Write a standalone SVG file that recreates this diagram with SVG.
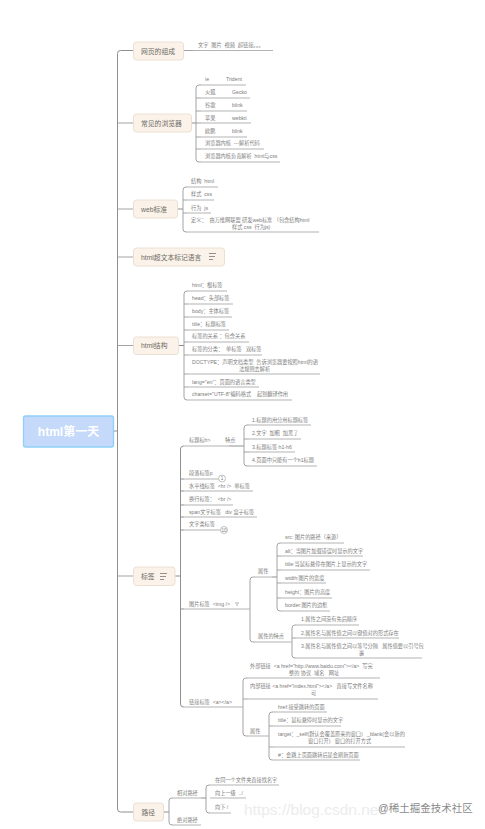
<svg xmlns="http://www.w3.org/2000/svg" width="485" height="829" viewBox="0 0 485 829">
<style>
text{font-family:"Liberation Sans","Noto Sans CJK SC",sans-serif;font-size:5.2px;fill:#7c7c7c;white-space:pre}
.m{font-size:6.8px;fill:#6e6a66}
.r{font-size:12px;font-weight:bold;fill:#fff}
.n{fill:#fbf3ea;stroke:#ebe0d2;stroke-width:1}
.u{stroke:#aaa;stroke-width:0.9;fill:none}
.c{stroke:#999;stroke-width:0.9;fill:none}
.t{stroke:#8f8f8f;stroke-width:1;fill:none}
.w{font-size:15.500px;fill:#ececec}
</style>
<rect width="485" height="829" fill="#fff"/>
<g id="watermark-url"><text class="w" x="244" y="815">https://blog.csdn.net/</text></g>
<g id="connectors">
<path class="t" d="M113 431H117.5"/>
<path class="t" d="M133 50.5H120.5Q117.5 50.5 117.5 53.500V809Q117.500 812 120.500 812H133"/>
<path class="c" d="M117.5 123H133M117.5 209H133M117.5 257H133M117.5 345.500H133M117.5 576H133"/>
<path class="c" d="M183 50.500H193"/>
<path class="t" d="M191 123H196"/>
<path class="c" d="M201 85H199Q196 85 196 88V159Q196 162 199 162H201M196 98H201M196 111H201M196 123H201M196 137H201M196 149H201"/>
<path class="t" d="M177 209H183"/>
<path class="c" d="M187 187H186Q183 187 183 190V229Q183 232 186 232H187M183 200H187M183 213H187"/>
<path class="t" d="M178 345.500H184"/>
<path class="c" d="M188 291H187Q184 291 184 294V397Q184 400 187 400H188M184 304H188M184 317H188M184 330H188M184 342H188M184 355H188M184 374H188M184 387H188"/>
<path class="t" d="M175 576H180.500"/>
<path class="t" d="M184 446H183.500Q180.500 446 180.500 449V704Q180.500 707 183.500 707H184M180.500 479H184M180.500 491H184M180.500 505H184M180.500 517H184M180.500 530H184M180.500 609H184"/>
<path class="t" d="M229 446H244"/>
<path class="c" d="M249 425H247Q244 425 244 428V463Q244 466 247 466H249M244 439H249M244 452H249"/>
<path class="c" d="M250 609V580Q250 577 253 577H255M250 609V639Q250 642 253 642H255"/>
<path class="t" d="M272 577H277"/>
<path class="c" d="M281 543H280Q277 543 277 546V608Q277 611 280 611H281M277 556H281M277 570H281M277 583H281M277 598H281"/>
<path class="c" d="M296 625H295Q292 625 292 628V655Q292 658 295 658H296M292 638H296"/>
<path class="c" d="M243 707V681Q243 678 246 678H248M243 707V733Q243 736 246 736H248M243 699H248"/>
<path class="c" d="M273 712H272Q269 712 269 715V757Q269 760 272 760H273M269 726H273M269 747H273"/>
<path class="t" d="M163 812H169"/>
<path class="c" d="M173 798H172Q169 798 169 801V822Q169 825 172 825H173"/>
<path class="t" d="M201 798H206"/>
<path class="c" d="M210 785H209Q206 785 206 788V810Q206 813 209 813H210"/>
</g>
<g id="root"><rect x="23.500" y="416" width="90" height="31" rx="2" fill="#c5d9fb" stroke="#8fd0f7" stroke-width="1.300"/><text class="r" x="68.500" y="436" text-anchor="middle">html第一天</text></g>
<g id="n-composition"><rect class="n" x="133.500" y="42" width="50" height="18" rx="3"/><text class="m" x="141" y="53.500">网页的组成</text></g>
<g id="n-browsers"><rect class="n" x="133.500" y="114" width="58" height="18" rx="3"/><text class="m" x="141" y="125.500">常见的浏览器</text></g>
<g id="n-web"><rect class="n" x="133.500" y="200" width="44" height="18" rx="3"/><text class="m" x="141" y="211.500">web标准</text></g>
<g id="n-hypertext"><rect class="n" x="133.500" y="248" width="91" height="18" rx="3"/><text class="m" x="141" y="259.500">html超文本标记语言</text><path d="M209 253.500H216M209 256.500H215M209 259.500H213" stroke="#777" stroke-width="0.800" fill="none"/></g>
<g id="n-structure"><rect class="n" x="133.500" y="337" width="45" height="17.500" rx="3"/><text class="m" x="141" y="348">html结构</text></g>
<g id="n-tags"><rect class="n" x="133.500" y="567" width="41.500" height="18.500" rx="3"/><text class="m" x="141" y="579">标签</text><path d="M160 573.500H167M160 576.500H166M160 579.500H164" stroke="#777" stroke-width="0.800" fill="none"/></g>
<g id="n-path"><rect class="n" x="133.500" y="803" width="30" height="18" rx="3"/><text class="m" x="141.500" y="814.500">路径</text></g>

<g id="l-composition"><text x="198" y="47">文字  图片  视频  超链接。。。</text><path class="u" d="M193 50.500H273"/></g>
<g id="l-ie"><text x="205" y="81">ie</text><text x="226" y="81">Trident</text><path class="u" d="M201 85H246"/></g>
<g id="l-firefox"><text x="205" y="94">火狐</text><text x="232" y="94">Gecko</text><path class="u" d="M201 98H250"/></g>
<g id="l-chrome"><text x="205" y="107">谷歌</text><text x="232" y="107">blink</text><path class="u" d="M201 111H247"/></g>
<g id="l-safari"><text x="205" y="120">苹果</text><text x="232" y="120">webkit</text><path class="u" d="M201 123H251"/></g>
<g id="l-opera"><text x="205" y="133">欧鹏</text><text x="232" y="133">blink</text><path class="u" d="M201 137H247"/></g>
<g id="l-kernel1"><text x="205" y="145">浏览器内核  ---解析代码</text><path class="u" d="M201 149H264"/></g>
<g id="l-kernel2"><text x="205" y="158">浏览器内核负责解析  html与css</text><path class="u" d="M201 162H280"/></g>

<g id="l-w1"><text x="191" y="183">结构  html</text><path class="u" d="M187 187H218"/></g>
<g id="l-w2"><text x="191" y="196">样式  css</text><path class="u" d="M187 200H214"/></g>
<g id="l-w3"><text x="191" y="209.500">行为  js</text><path class="u" d="M187 213H211"/></g>
<g id="l-w4"><text x="191" y="222">定义：  由万维网联盟 研发web标准 （包含结构html</text><text x="232" y="229">样式 css  行为js)</text><path class="u" d="M187 232H319"/></g>

<g id="l-s1"><text x="192" y="287">html：根标签</text><path class="u" d="M188 291H227"/></g>
<g id="l-s2"><text x="192" y="300">head：头部标签</text><path class="u" d="M188 304H233"/></g>
<g id="l-s3"><text x="192" y="313">body：主体标签</text><path class="u" d="M188 317H232"/></g>
<g id="l-s4"><text x="192" y="326">title：标题标签</text><path class="u" d="M188 330H229"/></g>
<g id="l-s5"><text x="192" y="338">标签的关系 ：包含关系</text><path class="u" d="M188 342H249"/></g>
<g id="l-s6"><text x="192" y="351">标签的分类：  单标签   双标签</text><path class="u" d="M188 355H262"/></g>
<g id="l-s7"><text x="192" y="364">DOCTYPE：声明文档类型  告诉浏览器要按照html的语</text><text x="239" y="371">法规则去解析</text><path class="u" d="M188 374H320"/></g>
<g id="l-s8"><text x="192" y="384">lang="en"：页面的语言类型</text><path class="u" d="M188 387H259"/></g>
<g id="l-s9"><text x="192" y="396">charset="UTF-8"编码格式    起到翻译作用</text><path class="u" d="M188 400H292"/></g>

<g id="t-h"><text x="189" y="442">标题标h&gt;</text><text x="225" y="442">特点</text><path class="u" d="M184 446H229"/></g>
<g id="t-h1"><text x="252" y="422">1.标题的用分用标题标签</text><path class="u" d="M249 425H311"/></g>
<g id="t-h2"><text x="252" y="435">2.文字  加粗  加黑了</text><path class="u" d="M249 439H301"/></g>
<g id="t-h3"><text x="252" y="449">3.标题标签 h1-h6</text><path class="u" d="M249 452H295"/></g>
<g id="t-h4"><text x="252" y="462">4.页面中只能有一个h1标题</text><path class="u" d="M249 466H317"/></g>
<g id="t-p"><text x="189" y="475">段落标签p</text><path class="u" d="M184 479H218.500"/><circle cx="222" cy="478.500" r="3.500" fill="#fff" stroke="#999" stroke-width="0.600"/><text x="222" y="480.300" text-anchor="middle" style="font-size:4.500px">1</text></g>
<g id="t-hr"><text x="189" y="488">水平线标签  &lt;hr /&gt;  单标签</text><path class="u" d="M184 491H253"/></g>
<g id="t-br"><text x="189" y="501">换行标签：  &lt;br /&gt;</text><path class="u" d="M184 505H233"/></g>
<g id="t-span"><text x="189" y="514">span文字标签   div 盒子标签</text><path class="u" d="M184 517H257"/></g>
<g id="t-text"><text x="189" y="526">文字类标签</text><path class="u" d="M184 530H220.500"/><circle cx="224" cy="530" r="3.500" fill="#fff" stroke="#999" stroke-width="0.600"/><text x="224" y="531.800" text-anchor="middle" style="font-size:4.500px">10</text></g>
<g id="t-img"><text x="189" y="606">图片标签  &lt;img /&gt;</text><path d="M235 603H239M236 605H238" stroke="#777" stroke-width="0.600"/><path class="u" d="M184 609H250"/></g>
<g id="t-attr"><text x="258" y="573">属性</text><path class="u" d="M255 577H272"/></g>
<g id="t-a1"><text x="285" y="539">src: 图片的路径（来源）</text><path class="u" d="M281 543H344"/></g>
<g id="t-a2"><text x="285" y="553">alt：当图片加载错误时显示的文字</text><path class="u" d="M281 556H363"/></g>
<g id="t-a3"><text x="285" y="566">title:当鼠标悬停在图片上显示的文字</text><path class="u" d="M281 570H370"/></g>
<g id="t-a4"><text x="285" y="580">width:图片的宽度</text><path class="u" d="M281 583H326"/></g>
<g id="t-a5"><text x="285" y="594">height：图片的高度</text><path class="u" d="M281 598H332"/></g>
<g id="t-a6"><text x="285" y="607">border:图片的边框</text><path class="u" d="M281 611H330"/></g>
<g id="t-feat"><text x="258" y="638">属性的特点</text><path class="u" d="M255 642H292"/></g>
<g id="t-f1"><text x="301" y="621">1.属性之间没有先后顺序</text><path class="u" d="M296 625H359"/></g>
<g id="t-f2"><text x="301" y="635">2.属性名与属性值之间以键值对的形式存在</text><path class="u" d="M296 638H399"/></g>
<g id="t-f3"><text x="301" y="648">3.属性名与属性值之间以等号分隔   属性值要以引号包</text><text x="359" y="655">裹</text><path class="u" d="M296 658H422"/></g>
<g id="t-a"><text x="189" y="704">链接标签  &lt;a&gt;&lt;/a&gt;</text><path class="u" d="M184 707H243"/></g>
<g id="t-ext"><text x="250" y="668">外部链接  &lt;a href="http://www.baidu.com"&gt;&lt;/a&gt;  写完</text><text x="289" y="675">整的 协议  域名   网址</text><path class="u" d="M248 678H380"/></g>
<g id="t-int"><text x="250" y="688">内部链接 &lt;a href="index.html"&gt;&lt;/a&gt;   直接写文件名称</text><text x="311" y="695">可</text><path class="u" d="M248 699H378"/></g>
<g id="t-aattr"><text x="250" y="733">属性</text><path class="u" d="M248 736H269"/></g>
<g id="t-l1"><text x="278" y="709">href:接受跳转的页面</text><path class="u" d="M273 712H327"/></g>
<g id="t-l2"><text x="278" y="722">title：鼠标悬停时显示的文字</text><path class="u" d="M273 726H341"/></g>
<g id="t-l3"><text x="278" y="736">target：_self(默认会覆盖原来的窗口)   _blank(会以新的</text><text x="308" y="743">窗口打开)   窗口的打开方式</text><path class="u" d="M273 747H405"/></g>
<g id="t-l4"><text x="278" y="757">#：会跳上页面跳转后是会刷新页面</text><path class="u" d="M273 760H360"/></g>

<g id="p-rel"><text x="177" y="795">相对路径</text><path class="u" d="M173 798H201"/></g>
<g id="p-abs"><text x="177" y="822">绝对路径</text><path class="u" d="M173 825H201"/></g>
<g id="p-1"><text x="215" y="782">在同一个文件夹直接找名字</text><path class="u" d="M210 785H279"/></g>
<g id="p-2"><text x="215" y="795">向上一级  ../</text><path class="u" d="M210 798H246"/></g>
<g id="p-3"><text x="215" y="809">向下 /</text><path class="u" d="M210 813H231"/></g>
<g id="watermark"><text x="378" y="812" style="font-size:10.500px;fill:#8a8a8a">@稀土掘金技术社区</text></g>
</svg>
